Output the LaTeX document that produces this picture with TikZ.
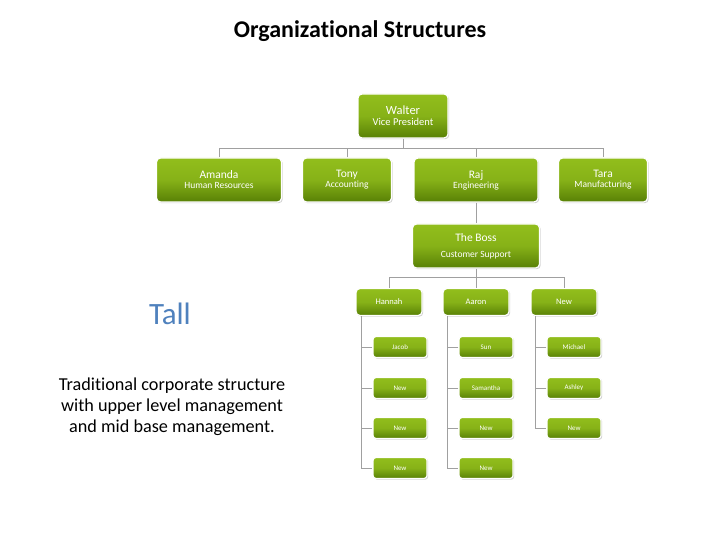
\documentclass[tikz,border=0pt]{standalone}
\usepackage{fontspec}
\setmainfont{Carlito}[Ligatures={NoCommon}]
\usetikzlibrary{shadows}
\definecolor{boxtop}{RGB}{146,190,28}
\definecolor{boxbot}{RGB}{88,128,6}
\definecolor{wirecol}{RGB}{160,160,160}
\definecolor{tallblue}{RGB}{79,129,189}
\tikzset{
  gbox/.style={rounded corners=4pt, draw=white, line width=1.2pt,
    top color=boxtop, bottom color=boxbot, middle color=boxtop!80!boxbot,
    text=white, align=center, inner sep=0pt,
    drop shadow={shadow xshift=1.2pt, shadow yshift=-1.2pt, opacity=0.35}},
  bigbox/.style={gbox, minimum height=44pt},
  midbox/.style={gbox, minimum width=66pt, minimum height=27pt, font=\fontsize{8.5}{10}\selectfont},
  subbox/.style={gbox, minimum width=54pt, minimum height=21pt, rounded corners=3pt, font=\fontsize{7}{8}\selectfont},
  wire/.style={draw=wirecol, line width=0.8pt},
}
\newcommand{\nm}[1]{{\fontsize{11.5}{13}\selectfont #1}}
\newcommand{\rl}[1]{{\fontsize{9.5}{11}\selectfont #1}}
\begin{document}
\begin{tikzpicture}[x=1pt,y=-1pt]
\useasboundingbox (0,0) rectangle (720,540);
\fill[white] (0,0) rectangle (720,540);

% texts
\node[font=\bfseries\fontsize{24}{26}\selectfont] (title) at (360,31) {Organizational Structures};
\node[text=tallblue, font=\fontsize{31}{33}\selectfont] (tall) at (170,314) {Tall};
\node[align=center, font=\fontsize{18.2}{21}\selectfont] (desc) at (172,407) {Traditional corporate structure\\with upper level management\\and mid base management.};

% top boxes
\node[bigbox, minimum width=90pt] (walter) at (403,116) {{\fontsize{12.5}{14}\selectfont Walter}\\[-1pt]{\fontsize{10.5}{12}\selectfont Vice President}};
\node[bigbox, minimum width=125pt] (amanda) at (219,180) {\nm{Amanda}\\[-2pt]\rl{Human Resources}};
\node[bigbox, minimum width=89pt] (tony) at (347,180) {\nm{Tony}\\[-2pt]\rl{Accounting}};
\node[bigbox, minimum width=124pt] (raj) at (476,180) {\nm{Raj}\\[-2pt]\rl{Engineering}};
\node[bigbox, minimum width=89pt] (tara) at (603,180) {\nm{Tara}\\[-2pt]\rl{Manufacturing}};
\node[bigbox, minimum width=127pt] (boss) at (476,246) {\nm{The Boss}\\[4pt]\rl{Customer Support}};

% mid boxes
\node[midbox] (hannah) at (389,302) {Hannah};
\node[midbox] (aaron) at (476,302) {Aaron};
\node[midbox] (newc) at (564,302) {New};

% sub boxes
\node[subbox] (h1) at (400,347) {Jacob};
\node[subbox] (h2) at (400,388) {New};
\node[subbox] (h3) at (400,428) {New};
\node[subbox] (h4) at (400,468) {New};
\node[subbox] (a1) at (486,347) {Sun};
\node[subbox] (a2) at (486,388) {Samantha};
\node[subbox] (a3) at (486,428) {New};
\node[subbox] (a4) at (486,468) {New};
\node[subbox] (n1) at (574,347) {Michael};
\node[subbox] (n2) at (574,388) {Ashley};
\node[subbox] (n3) at (574,428) {New};

% connectors top level
\coordinate (bus1) at (0,148);
\path[wire] (walter.south) -- (walter.south |- bus1);
\path[wire] (amanda.north) -- (amanda.north |- bus1) -| (tara.north);
\path[wire] (tony.north) -- (tony.north |- bus1);
\path[wire] (raj.north) -- (raj.north |- bus1);
\path[wire] (raj.south) -- (boss.north);

\coordinate (bus2) at (0,277);
\path[wire] (boss.south) -- (boss.south |- bus2);
\path[wire] (hannah.north) -- (hannah.north |- bus2) -| (newc.north);
\path[wire] (aaron.north) -- (aaron.north |- bus2);

% column lines
\coordinate (hl) at ([xshift=6pt]hannah.south west);
\coordinate (al) at ([xshift=5pt]aaron.south west);
\coordinate (nl) at ([xshift=5pt]newc.south west);
\path[wire] (hl) |- (h4.west);
\path[wire] (al) |- (a4.west);
\path[wire] (nl) |- (n3.west);
\foreach \i in {1,2,3} {
  \path[wire] (h\i.west) -- (h\i.west -| hl);
  \path[wire] (a\i.west) -- (a\i.west -| al);
}
\foreach \i in {1,2} {
  \path[wire] (n\i.west) -- (n\i.west -| nl);
}
\end{tikzpicture}
\end{document}
